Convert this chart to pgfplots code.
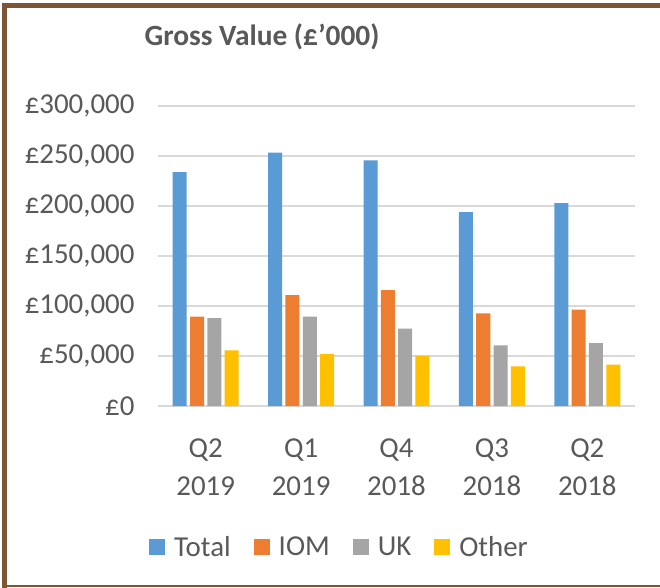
\documentclass[border=0pt]{standalone}
\usepackage{fontspec}
\setmainfont{Carlito}
\usepackage{pgfplots}
\pgfplotsset{compat=1.18}
\definecolor{cTotal}{HTML}{5B9BD5}
\definecolor{cIOM}{HTML}{ED7D31}
\definecolor{cUK}{HTML}{A5A5A5}
\definecolor{cOther}{HTML}{FFC000}
\definecolor{txtgray}{HTML}{595959}
\definecolor{gridgray}{HTML}{D9D9D9}
\definecolor{frame}{HTML}{7B5635}

\begin{document}
\begin{tikzpicture}
  \useasboundingbox (0,0) rectangle (660bp,-588bp);
  \fill[white] (0,0) rectangle (660bp,-588bp);
  \begin{axis}[
    at={(158bp,-406bp)}, anchor=south west,
    scale only axis, width=477bp, height=300bp,
    xmin=-0.5, xmax=4.5, ymin=0, ymax=300000,
    ybar=3.3bp, bar width=14bp,
    xtick={0,...,4},
    xticklabels={{Q2\\2019},{Q1\\2019},{Q4\\2018},{Q3\\2018},{Q2\\2018}},
    ytick={0,50000,...,300000},
    yticklabels={£0,{£50,000},{£100,000},{£150,000},{£200,000},{£250,000},{£300,000}},
    scaled y ticks=false,
    axis line style={draw=none}, major tick length=0,
    ymajorgrids, grid style={line width=1.5bp, gridgray},
    tick label style={font=\fontsize{29}{38}\selectfont, text=txtgray},
    xticklabel style={align=center, yshift=-29bp},
    yticklabel style={xshift=-20bp},
    legend columns=4,
    legend style={at={(0.3805,-0.47)}, anchor=center, draw=none, fill=none,
      font=\fontsize{29}{35}\selectfont, text=txtgray,
      /tikz/every odd column/.append style={column sep=7bp},
      /tikz/every even column/.append style={column sep=21bp}},
    legend image code/.code={\fill[#1] (0bp,-8bp) rectangle (16bp,8bp);},
  ]
    \addplot[fill=cTotal, draw=none] coordinates {(0,234000) (1,253400) (2,245700) (3,194000) (4,203000)};
    \addplot[fill=cIOM, draw=none] coordinates {(0,89400) (1,111000) (2,116000) (3,92600) (4,96300)};
    \addplot[fill=cUK, draw=none] coordinates {(0,88000) (1,89400) (2,77400) (3,60600) (4,63000)};
    \addplot[fill=cOther, draw=none] coordinates {(0,55700) (1,52000) (2,50400) (3,39600) (4,41300)};
    \legend{Total, IOM, UK, Other}
  \end{axis}
  \node[font=\fontsize{29.5}{35}\selectfont\bfseries, text=txtgray] at (262bp,-37bp) {Gross Value (£’000)};
  \fill[frame] (2bp,-3bp) rectangle (660bp,-8bp);
  \fill[frame] (2bp,-3bp) rectangle (7bp,-588bp);
  \fill[frame] (2bp,-585bp) rectangle (660bp,-587bp);
\end{tikzpicture}
\end{document}
